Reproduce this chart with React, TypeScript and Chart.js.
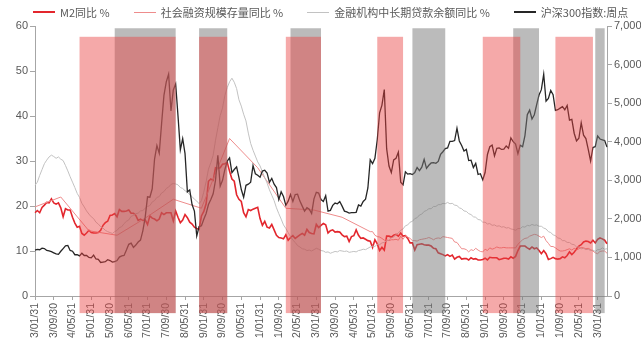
import { useEffect, useRef } from 'react';
import { Chart, registerables } from 'chart.js';

Chart.register(...registerables);

// Monthly observations, 2003/01 – 2023/05
const START_YEAR = 2003;
const MONTH_COUNT = 245;

const months: string[] = [];
const dateLabels: string[] = [];
for (let i = 0; i < MONTH_COUNT; i++) {
  const y = START_YEAR + Math.floor(i / 12);
  const m = (i % 12) + 1;
  const d = new Date(y, m, 0).getDate();
  const mm = String(m).padStart(2, '0');
  months.push(`${y}/${mm}`);
  dateLabels.push(`${y}/${mm}/${d}`);
}

// M2 同比 (%)
const m2Yoy: number[] = [
  18.5, 19.0, 18.5, 19.7, 20.2, 20.8, 20.7, 21.6, 20.7, 20.4, 20.7, 19.6,
  17.6, 19.4, 19.1, 19.1, 17.5, 16.2, 15.3, 15.5, 13.9, 13.5, 14.0, 14.6,
  14.1, 14.0, 14.0, 14.1, 14.6, 15.7, 16.3, 16.6, 17.9, 18.0, 18.3, 17.6,
  19.2, 18.8, 18.8, 18.9, 19.1, 18.4, 18.4, 17.9, 16.8, 17.1, 16.8, 16.9,
  15.9, 17.8, 17.3, 17.1, 16.7, 17.1, 18.5, 18.1, 18.5, 18.5, 18.5, 16.7,
  18.9, 17.5, 16.3, 16.9, 18.1, 17.4, 16.4, 16.0, 15.3, 15.0, 14.8, 17.8,
  18.8, 20.5, 25.5, 26.0, 25.7, 28.5, 28.4, 28.5, 29.3, 29.4, 29.7, 27.7,
  26.0, 25.5, 22.5, 21.5, 21.0, 18.5, 17.6, 19.2, 19.0, 19.3, 19.5, 19.7,
  17.2, 15.7, 16.6, 15.3, 15.1, 15.9, 14.7, 13.5, 13.0, 12.9, 12.7, 13.6,
  12.4, 13.0, 13.4, 12.8, 13.2, 13.6, 13.9, 13.5, 14.8, 14.1, 13.9, 13.8,
  15.9, 15.2, 15.7, 16.1, 15.8, 14.0, 14.5, 14.7, 14.2, 14.3, 14.2, 13.6,
  13.2, 13.3, 12.1, 13.2, 13.4, 14.7, 13.5, 12.8, 12.9, 12.6, 12.3, 12.2,
  10.8, 12.5, 11.6, 10.1, 10.8, 10.2, 13.3, 13.3, 13.1, 13.5, 13.7, 13.3,
  14.0, 13.3, 13.4, 12.8, 11.8, 11.8, 10.2, 11.4, 11.5, 11.6, 11.4, 11.3,
  11.3, 11.1, 10.6, 10.5, 9.6, 9.4, 9.2, 8.9, 9.2, 8.8, 9.1, 8.2,
  8.6, 8.8, 8.2, 8.3, 8.3, 8.0, 8.5, 8.2, 8.3, 8.0, 8.0, 8.1,
  8.4, 8.0, 8.6, 8.5, 8.5, 8.5, 8.1, 8.2, 8.4, 8.4, 8.2, 8.7,
  8.4, 8.8, 10.1, 11.1, 11.1, 11.1, 10.7, 10.4, 10.9, 10.5, 10.7, 10.1,
  9.4, 10.1, 9.4, 8.1, 8.3, 8.6, 8.3, 8.2, 8.3, 8.7, 8.5, 9.0,
  9.8, 9.2, 9.7, 10.5, 11.1, 11.4, 12.0, 12.2, 12.1, 11.8, 12.4, 11.8,
  12.6, 12.9, 12.7, 12.4, 11.6,
];

// 社会融资规模存量同比 (%): year-end points before 2015, monthly afterwards
const tsfYoy: (number | null)[] = [
  19.8, null, null, null, null, null, null, null, null, null, null, 22.0,
  null, null, null, null, null, null, null, null, null, null, null, 14.5,
  null, null, null, null, null, null, null, null, null, null, null, 13.5,
  null, null, null, null, null, null, null, null, null, null, null, 17.3,
  null, null, null, null, null, null, null, null, null, null, null, 21.5,
  null, null, null, null, null, null, null, null, null, null, null, 19.5,
  null, null, null, null, null, null, null, null, null, null, null, 35.0,
  null, null, null, null, null, null, null, null, null, null, null, 28.5,
  null, null, null, null, null, null, null, null, null, null, null, 19.5,
  null, null, null, null, null, null, null, null, null, null, null, 19.1,
  null, null, null, null, null, null, null, null, null, null, null, 17.5,
  null, null, null, null, null, null, null, null, null, null, null, 14.3,
  14.3, 13.5, 13.2, 13.1, 12.8, 12.4, 12.5, 12.3, 12.5, 12.5, 12.6, 12.4,
  13.3, 12.6, 13.4, 13.1, 12.8, 12.3, 12.3, 12.2, 12.5, 12.6, 12.7, 12.8,
  13.0, 12.8, 12.5, 12.8, 12.9, 12.8, 13.2, 13.1, 13.0, 12.9, 12.8, 12.0,
  11.9, 11.2, 10.5, 10.5, 10.3, 9.8, 10.3, 10.1, 10.6, 10.2, 9.9, 9.8,
  10.4, 10.1, 10.7, 10.4, 10.6, 10.9, 10.7, 10.7, 10.8, 10.7, 10.7, 10.7,
  10.7, 10.7, 11.5, 12.0, 12.5, 12.8, 12.9, 13.3, 13.5, 13.7, 13.6, 13.3,
  13.0, 13.3, 12.3, 11.7, 11.0, 11.0, 10.7, 10.3, 10.0, 10.0, 10.1, 10.3,
  10.5, 10.2, 10.6, 10.2, 10.5, 10.8, 10.7, 10.5, 10.6, 10.3, 10.0, 9.6,
  9.4, 9.9, 10.0, 10.0, 9.5,
];

// 金融机构中长期贷款余额同比 (%)
const longLoanYoy: number[] = [
  24.6, 25.3, 26.8, 28.1, 29.4, 30.2, 30.9, 31.3, 31.0, 30.6, 30.9, 30.4,
  30.1, 29.0, 27.8, 26.5, 25.3, 24.1, 22.8, 21.9, 20.6, 19.8, 18.9, 18.2,
  17.6, 17.2, 16.4, 16.0, 15.4, 15.1, 14.6, 14.3, 14.1, 13.9, 14.3, 14.6,
  15.2, 15.4, 16.1, 16.6, 16.9, 17.7, 17.9, 18.3, 18.4, 18.9, 19.0, 19.5,
  19.9, 20.1, 20.9, 21.2, 21.9, 22.1, 22.9, 23.2, 23.9, 24.2, 24.8, 25.0,
  24.9, 24.7, 24.1, 23.9, 23.4, 23.1, 22.5, 22.1, 21.5, 21.1, 20.5, 21.2,
  23.1, 25.4, 28.2, 29.6, 31.3, 34.6, 37.4, 40.1, 41.8, 44.6, 46.3, 47.6,
  48.4, 47.5, 46.1, 43.6, 42.2, 40.4, 38.9, 36.2, 33.9, 32.4, 31.1, 29.8,
  28.9, 27.6, 26.3, 25.1, 23.6, 22.4, 21.2, 19.6, 18.3, 17.1, 15.8, 15.0,
  14.1, 13.2, 12.4, 11.9, 11.2, 10.9, 10.5, 10.4, 10.1, 10.2, 10.0, 10.3,
  10.6, 10.4, 10.1, 10.0, 9.7, 9.8, 9.5, 9.7, 9.9, 9.8, 10.1, 10.0,
  9.9, 10.0, 9.7, 9.8, 9.9, 9.8, 10.1, 10.2, 10.4, 10.3, 10.6, 10.9,
  11.1, 11.0, 11.5, 11.4, 11.8, 11.9, 12.3, 12.4, 12.9, 13.1, 13.7, 14.0,
  14.6, 14.9, 15.6, 15.8, 16.4, 16.6, 17.2, 17.4, 18.0, 18.2, 18.8, 19.0,
  19.4, 19.4, 19.9, 19.9, 20.3, 20.3, 20.6, 20.5, 20.8, 20.5, 20.6, 20.2,
  20.1, 19.6, 19.4, 18.9, 18.8, 18.3, 18.1, 17.6, 17.5, 17.0, 16.9, 16.4,
  16.4, 16.0, 16.1, 15.7, 15.8, 15.5, 15.6, 15.3, 15.4, 15.1, 15.2, 14.9,
  14.8, 14.6, 15.0, 15.0, 15.4, 15.3, 15.7, 15.6, 15.9, 15.7, 15.8, 15.5,
  15.5, 15.1, 14.9, 14.3, 14.1, 13.6, 13.4, 12.9, 12.8, 12.3, 12.3, 11.9,
  11.9, 11.5, 11.4, 10.9, 10.9, 10.5, 10.6, 10.3, 10.4, 10.1, 10.2, 9.9,
  10.3, 10.3, 10.7, 10.4, 10.5,
];

// 沪深300指数 (点, 右轴)
const csi300: number[] = [
  1190, 1210, 1200, 1240, 1230, 1180, 1170, 1150, 1120, 1090, 1080, 1160,
  1230, 1300, 1310, 1180, 1160, 1070, 1070, 1040, 1110, 1050, 1050, 1000,
  990, 1060, 960, 950, 870, 880, 890, 940, 920, 880, 890, 920,
  1010, 1040, 1050, 1190, 1340, 1370, 1260, 1320, 1400, 1450, 1690, 2040,
  2570, 2560, 2780, 3550, 3900, 3700, 4470, 5200, 5550, 5750, 4800, 5340,
  5500, 4670, 3790, 4080, 3690, 2700, 2750, 2370, 2200, 1560, 1800, 1820,
  1990, 2140, 2370, 2500, 2650, 3000, 3650, 2850, 3000, 3280, 3500, 3580,
  3200, 3280, 3350, 3070, 2760, 2560, 2870, 2900, 2950, 3380, 3170, 3130,
  3080, 3240, 3260, 3190, 2950, 3050, 2900, 2810, 2500, 2700, 2580, 2350,
  2460, 2630, 2450, 2630, 2640, 2460, 2330, 2200, 2290, 2250, 2140, 2520,
  2690, 2670, 2500, 2450, 2600, 2200, 2220, 2350, 2410, 2390, 2450, 2330,
  2200, 2180, 2150, 2160, 2160, 2170, 2360, 2330, 2450, 2510, 2800, 3530,
  3430, 3570, 4050, 4750, 4950, 5350, 3820, 3370, 3200, 3530, 3570, 3730,
  2950, 2880, 3220, 3160, 3170, 3150, 3200, 3330, 3250, 3340, 3540, 3310,
  3390, 3450, 3460, 3440, 3490, 3670, 3740, 3820, 3840, 4010, 4010, 4030,
  4350, 4020, 3900, 3760, 3800, 3510, 3520, 3330, 3440, 3150, 3170, 3010,
  3200, 3670, 3870, 3910, 3630, 3830, 3840, 3800, 3810, 3890, 3830, 4100,
  4000, 3940, 3690, 3910, 3870, 4160, 4700, 4820, 4590, 4700, 4960, 5210,
  5350, 5750, 5050, 5120, 5330, 5220, 4810, 4830, 4870, 4910, 4830, 4940,
  4560, 4580, 4220, 4020, 4090, 4490, 4170, 4080, 3800, 3500, 3850, 3870,
  4150, 4070, 4050, 4030, 3860,
];

// Shaded periods [first month, last month]
const redPeriods: [string, string][] = [
  ['2004/08', '2008/01'],
  ['2008/11', '2009/11'],
  ['2011/12', '2013/03'],
  ['2015/03', '2016/02'],
  ['2018/12', '2020/04'],
  ['2021/07', '2022/11'],
];
const grayPeriods: [string, string][] = [
  ['2005/11', '2008/01'],
  ['2008/11', '2009/11'],
  ['2012/02', '2013/03'],
  ['2016/06', '2017/08'],
  ['2020/01', '2020/12'],
  ['2022/12', '2023/04'],
];

const LEFT_MAX = 60;
const LEFT_STEP = 10;
const RIGHT_MAX = 7000;
const RIGHT_STEP = 1000;
const LABEL_EVERY = 8;

const COLOR_M2 = '#e3262d';
const COLOR_TSF = '#ee8c8c';
const COLOR_LOAN = '#c2c2c2';
const COLOR_CSI = '#262626';
const AXIS_COLOR = '#a6a6a6';
const TEXT_COLOR = '#595959';

const RED_FILL = 'rgba(232, 64, 64, 0.45)';
const GRAY_FILL = 'rgba(120, 120, 120, 0.5)';
const RED_TOP = 57.6;
const GRAY_TOP = 59.5;
const BAND_BASE = -3.8;

const legendItems = [
  { label: 'M2同比 %', color: COLOR_M2, thickness: 2 },
  { label: '社会融资规模存量同比 %', color: COLOR_TSF, thickness: 1 },
  { label: '金融机构中长期贷款余额同比 %', color: COLOR_LOAN, thickness: 1 },
  { label: '沪深300指数:周点', color: COLOR_CSI, thickness: 2 },
];

const periodBands = {
  id: 'periodBands',
  afterDatasetsDraw(chart: any) {
    const { ctx } = chart;
    const xs = chart.scales.x;
    const ys = chart.scales.y;
    const paint = (periods: [string, string][], top: number, fill: string) => {
      ctx.save();
      ctx.fillStyle = fill;
      for (const [s, e] of periods) {
        const x0 = xs.getPixelForValue(months.indexOf(s));
        const x1 = xs.getPixelForValue(months.indexOf(e));
        const y0 = ys.getPixelForValue(top);
        const y1 = ys.getPixelForValue(BAND_BASE);
        ctx.fillRect(x0, y0, x1 - x0, y1 - y0);
      }
      ctx.restore();
    };
    paint(grayPeriods, GRAY_TOP, GRAY_FILL);
    paint(redPeriods, RED_TOP, RED_FILL);
  },
};

export default function App() {
  const canvasRef = useRef<HTMLCanvasElement | null>(null);

  useEffect(() => {
    document.body.style.margin = '0';
    const canvas = canvasRef.current;
    if (!canvas) return;

    const tickFont = { family: "'Liberation Sans', 'Noto Sans CJK SC', sans-serif", size: 11 };

    const chart = new Chart(canvas, {
      type: 'line',
      data: {
        labels: dateLabels,
        datasets: [
          {
            label: 'M2同比 %',
            data: m2Yoy,
            borderColor: COLOR_M2,
            borderWidth: 1.6,
            yAxisID: 'y',
            order: 4,
          },
          {
            label: '社会融资规模存量同比 %',
            data: tsfYoy,
            borderColor: COLOR_TSF,
            borderWidth: 1,
            spanGaps: true,
            yAxisID: 'y',
            order: 3,
          },
          {
            label: '金融机构中长期贷款余额同比 %',
            data: longLoanYoy,
            borderColor: COLOR_LOAN,
            borderWidth: 1,
            yAxisID: 'y',
            order: 2,
          },
          {
            label: '沪深300指数:周点',
            data: csi300,
            borderColor: COLOR_CSI,
            borderWidth: 1.3,
            yAxisID: 'y1',
            order: 1,
          },
        ],
      },
      options: {
        animation: false,
        responsive: false,
        maintainAspectRatio: false,
        devicePixelRatio: 1,
        layout: { padding: { top: 26, left: 0, right: 0, bottom: 0 } },
        elements: {
          point: { radius: 0, hoverRadius: 0 },
          line: { tension: 0, fill: false },
        },
        plugins: {
          legend: { display: false },
          tooltip: { enabled: false },
        },
        scales: {
          x: {
            type: 'category',
            offset: false,
            grid: {
              drawOnChartArea: false,
              drawTicks: true,
              tickLength: 4,
              tickColor: (c: any) => (c.index % LABEL_EVERY === 0 ? AXIS_COLOR : 'rgba(0,0,0,0)'),
            },
            border: { display: true, color: AXIS_COLOR },
            ticks: {
              autoSkip: false,
              minRotation: 90,
              maxRotation: 90,
              padding: 3,
              color: TEXT_COLOR,
              font: { ...tickFont, size: 10.5 },
              callback: (_v: any, i: number) => (i % LABEL_EVERY === 0 ? dateLabels[i] : ''),
            },
            afterFit: (s: any) => {
              s.height = 42;
            },
          },
          y: {
            position: 'left',
            min: 0,
            max: LEFT_MAX,
            grid: { drawOnChartArea: false, tickLength: 5, color: AXIS_COLOR },
            border: { display: true, color: AXIS_COLOR },
            ticks: { stepSize: LEFT_STEP, color: TEXT_COLOR, font: tickFont, padding: 2 },
            afterFit: (s: any) => {
              s.width = 35;
            },
          },
          y1: {
            position: 'right',
            min: 0,
            max: RIGHT_MAX,
            grid: { drawOnChartArea: false, tickLength: 5, color: AXIS_COLOR },
            border: { display: true, color: AXIS_COLOR },
            ticks: {
              stepSize: RIGHT_STEP,
              color: TEXT_COLOR,
              font: tickFont,
              padding: 2,
              callback: (v: any) => Number(v).toLocaleString('en-US'),
            },
            afterFit: (s: any) => {
              s.width = 34;
            },
          },
        },
      },
      plugins: [periodBands],
    });

    return () => chart.destroy();
  }, []);

  return (
    <div style={{ position: 'relative', width: 641, height: 338, background: '#fff', overflow: 'hidden' }}>
      <canvas ref={canvasRef} width={641} height={338} style={{ position: 'absolute', left: 0, top: 0 }} />
      <div
        style={{
          position: 'absolute',
          top: 4,
          left: 33,
          display: 'flex',
          alignItems: 'center',
          gap: 24,
          fontFamily: "'Noto Sans CJK SC', 'Liberation Sans', sans-serif",
          fontSize: 11,
          lineHeight: '16px',
          color: TEXT_COLOR,
          whiteSpace: 'nowrap',
        }}
      >
        {legendItems.map((it) => (
          <div key={it.label} style={{ display: 'flex', alignItems: 'center' }}>
            <span
              style={{
                display: 'inline-block',
                width: 22,
                height: it.thickness,
                background: it.color,
                marginRight: 5,
              }}
            />
            <span>{it.label}</span>
          </div>
        ))}
      </div>
    </div>
  );
}
